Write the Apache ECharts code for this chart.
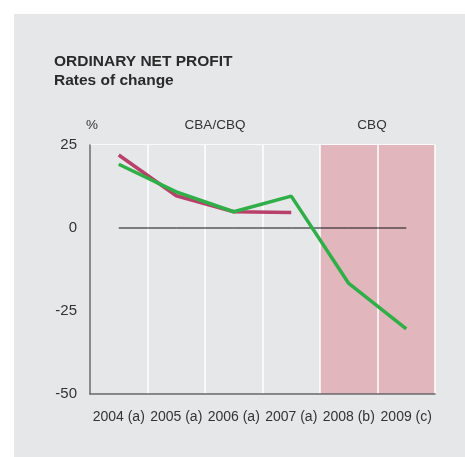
<!DOCTYPE html>
<html>
<head>
<meta charset="utf-8">
<script src="https://cdn.jsdelivr.net/npm/echarts@6/dist/echarts.min.js"></script>
<style>
  html, body { margin: 0; padding: 0; background: #fff; }
  #chartLineBox { width: 465px; height: 457px; }
</style>
</head>
<body>
<div id="chartLineBox"></div>
<script>
// categories and values
var years = ['2004 (a)', '2005 (a)', '2006 (a)', '2007 (a)', '2008 (b)', '2009 (c)'];
var cbaValues = [22, 9.7, 4.9, 4.7, null, null];
var cbqValues = [19.2, 10.9, 4.9, 9.6, -16.7, -30.4];
var zeroLine = [0, 0, 0, 0, 0, 0];
var yTicks = { min: -50, max: 25, interval: 25 };

var grey = '#e6e7e9';
var pink = '#e1b6bc';
// one band colour per year, the CBQ years are shaded
var bandColors = [grey, grey, grey, grey, pink, pink];

var chartLine = echarts.init(document.getElementById('chartLineBox'));
var font = 'Liberation Sans, Arial, Helvetica, sans-serif';

var option = {
  backgroundColor: '#fff',
  animation: false,
  graphic: [
    { type: 'rect', left: 14, top: 14, z: -10, shape: { width: 451, height: 443 }, style: { fill: grey } },
    { type: 'text', x: 54, y: 61.5, style: { text: 'ORDINARY NET PROFIT', font: 'bold 15.5px ' + font, fill: '#2a2a2a', verticalAlign: 'middle' } },
    { type: 'text', x: 54, y: 80.5, style: { text: 'Rates of change', font: 'bold 15.5px ' + font, fill: '#2a2a2a', verticalAlign: 'middle' } },
    { type: 'text', x: 92, y: 125, style: { text: '%', font: '13.5px ' + font, fill: '#333', align: 'center', verticalAlign: 'middle' } },
    { type: 'text', x: 215, y: 125, style: { text: 'CBA/CBQ', font: '13.5px ' + font, fill: '#333', align: 'center', verticalAlign: 'middle' } },
    { type: 'text', x: 372, y: 125, style: { text: 'CBQ', font: '13.5px ' + font, fill: '#333', align: 'center', verticalAlign: 'middle' } }
  ],
  grid: { left: 90, right: 30, top: 145, bottom: 63, containLabel: false },
  xAxis: {
    type: 'category',
    data: years,
    boundaryGap: true,
    axisLine: { onZero: false, lineStyle: { color: '#666', width: 1.5 } },
    axisTick: { show: false },
    axisLabel: { color: '#333', fontSize: 14, fontFamily: font, margin: 16, interval: 0 },
    splitLine: { show: true, lineStyle: { color: '#fff', width: 1.5 } },
    splitArea: { show: true, areaStyle: { color: bandColors } }
  },
  yAxis: {
    type: 'value',
    min: yTicks.min,
    max: yTicks.max,
    interval: yTicks.interval,
    axisLine: { show: true, lineStyle: { color: '#666', width: 1.5 } },
    axisTick: { show: false },
    axisLabel: { color: '#333', fontSize: 15, fontFamily: font, margin: 13 },
    splitLine: { show: true, lineStyle: { color: '#fff', width: 1.5 } }
  },
  series: [
    {
      name: 'zero',
      type: 'line',
      data: zeroLine,
      symbol: 'none',
      silent: true,
      lineStyle: { color: '#111', width: 1 }
    },
    {
      name: 'CBA',
      type: 'line',
      data: cbaValues,
      symbol: 'none',
      lineStyle: { color: '#b8416a', width: 3.5 }
    },
    {
      name: 'CBQ',
      type: 'line',
      data: cbqValues,
      symbol: 'none',
      lineStyle: { color: '#30ae48', width: 3.5 }
    }
  ]
};
chartLine.setOption(option);
</script>
</body>
</html>
